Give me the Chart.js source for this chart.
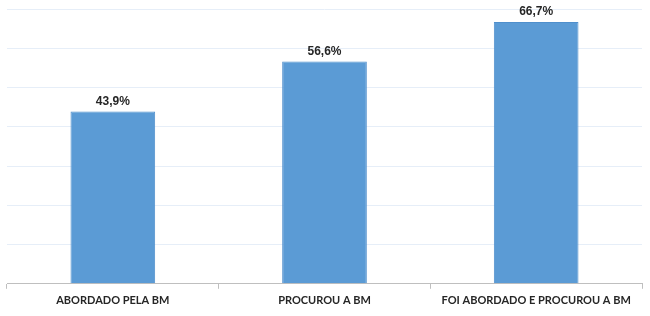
<!DOCTYPE html>
<html>
<head>
<meta charset="utf-8">
<script src="https://cdn.jsdelivr.net/npm/chart.js@4.4.0/dist/chart.umd.min.js"></script>
<style>
  html, body { margin: 0; padding: 0; background: #fff; }
  #wrap { width: 650px; height: 316px; }
</style>
</head>
<body>
<div id="wrap"><canvas id="chart"></canvas></div>
<script>
// chart data
var categories = ["ABORDADO PELA BM", "PROCUROU A BM", "FOI ABORDADO E PROCUROU A BM"];
var values = [43.9, 56.6, 66.7];
var yTicks = [0, 10, 20, 30, 40, 50, 60, 70];

// draws the "43,9%" labels above each bar
var valueLabels = {
  id: "valueLabels",
  afterDatasetsDraw: function (chart) {
    var ctx = chart.ctx;
    var meta = chart.getDatasetMeta(0);
    ctx.save();
    ctx.font = "bold 12px 'Liberation Sans', Arial, sans-serif";
    ctx.fillStyle = "#262626";
    ctx.textAlign = "center";
    ctx.textBaseline = "bottom";
    meta.data.forEach(function (bar, i) {
      var txt = values[i].toFixed(1).replace(".", ",") + "%";
      ctx.fillText(txt, bar.x, bar.y - 4);
    });
    ctx.restore();
  }
};

var ctx = document.getElementById("chart");
var myChart = new Chart(ctx, {
  type: "bar",
  data: {
    labels: categories,
    datasets: [{
      data: values,
      backgroundColor: "#5b9bd5",
      borderColor: "#4f8fcc",
      borderWidth: 1,
      categoryPercentage: 0.4,
      barPercentage: 1.0
    }]
  },
  options: {
    responsive: true,
    maintainAspectRatio: false,
    animation: false,
    layout: { padding: { left: 7, right: 8, top: 9, bottom: 4 } },
    plugins: {
      legend: { display: false },
      tooltip: { enabled: false }
    },
    scales: {
      x: {
        offset: true,
        grid: {
          offset: true,
          drawOnChartArea: false,
          drawTicks: true,
          tickLength: 5,
          color: "#bfbfbf"
        },
        border: { color: "#bfbfbf", width: 1 },
        ticks: {
          color: "#262626",
          padding: 5,
          font: { family: "Lato, 'Liberation Sans', sans-serif", size: 11, weight: "bold" }
        }
      },
      y: {
        min: yTicks[0],
        max: yTicks[yTicks.length - 1],
        afterBuildTicks: function (axis) {
          axis.ticks = yTicks.map(function (v) { return { value: v }; });
        },
        grid: { color: "#e6eef8", drawTicks: false },
        border: { display: false },
        ticks: { display: false }
      }
    }
  },
  plugins: [valueLabels]
});
</script>
</body>
</html>
